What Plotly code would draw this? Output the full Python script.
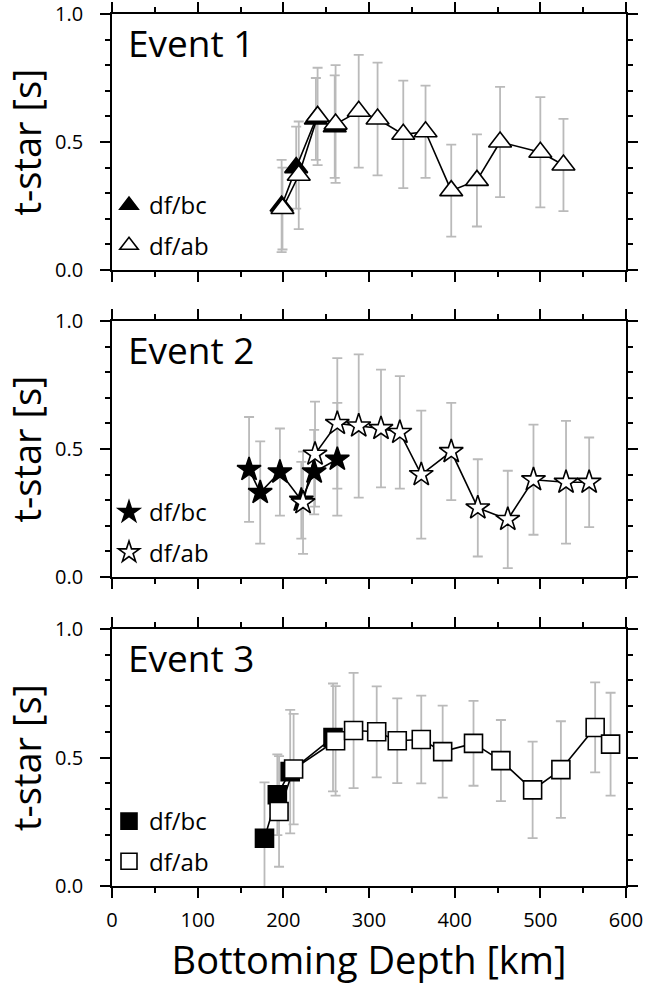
import plotly.graph_objects as go

# ---------------- data ----------------
ev1_ab_x = [199, 218, 240, 261, 288, 310, 340, 366, 396, 426, 453, 500, 527]
ev1_ab_y = [0.24, 0.37, 0.60, 0.57, 0.62, 0.59, 0.53, 0.54, 0.31, 0.35, 0.50, 0.46, 0.41]
ev1_ab_e = [0.16, 0.21, 0.19, 0.23, 0.22, 0.22, 0.21, 0.18, 0.18, 0.18, 0.215, 0.215, 0.18]
ev1_bc_x = [198, 215, 238, 260]
ev1_bc_y = [0.25, 0.40, 0.59, 0.56]
ev1_bc_e = [0.18, 0.16, 0.16, 0.20]

ev2_ab_x = [223, 237, 263, 288, 314, 336, 361, 396, 427, 462, 492, 530, 557]
ev2_ab_y = [0.29, 0.48, 0.60, 0.59, 0.58, 0.565, 0.40, 0.49, 0.27, 0.225, 0.38, 0.37, 0.37]
ev2_ab_e = [0.20, 0.205, 0.255, 0.28, 0.23, 0.22, 0.25, 0.19, 0.19, 0.19, 0.215, 0.24, 0.175]
ev2_bc_x = [160, 173, 196, 221, 236, 263]
ev2_bc_y = [0.42, 0.33, 0.41, 0.30, 0.41, 0.46]
ev2_bc_e = [0.205, 0.20, 0.17, 0.15, 0.165, 0.22]

ev3_ab_x = [195, 212, 261, 282, 309, 333, 361, 386, 422, 454, 491, 524, 564, 582]
ev3_ab_y = [0.29, 0.455, 0.565, 0.605, 0.60, 0.565, 0.57, 0.523, 0.555, 0.488, 0.374, 0.453, 0.617, 0.552]
ev3_ab_e = [0.215, 0.215, 0.213, 0.224, 0.177, 0.165, 0.171, 0.179, 0.165, 0.158, 0.188, 0.188, 0.175, 0.20]
ev3_bc_x = [178, 193, 208, 258]
ev3_bc_y = [0.186, 0.355, 0.445, 0.578]
ev3_bc_e = [0.217, 0.157, 0.24, 0.21]

event_labels = ["Event 1", "Event 2", "Event 3"]
series_names = ["df/bc", "df/ab"]
x_ticks = [0, 100, 200, 300, 400, 500, 600]
y_ticks = [0.0, 0.5, 1.0]

# ---------------- layout geometry ----------------
W, H = 647, 985
X0, X1 = 112, 626
panels_px = [(14, 270), (321, 577), (629, 886)]  # top, bottom in px

FONT = "Open Sans"
ERR_COLOR = "#bababa"

events = [
    (ev1_bc_x, ev1_bc_y, ev1_bc_e, ev1_ab_x, ev1_ab_y, ev1_ab_e, "triangle-up", 20),
    (ev2_bc_x, ev2_bc_y, ev2_bc_e, ev2_ab_x, ev2_ab_y, ev2_ab_e, "star", 18),
    (ev3_bc_x, ev3_bc_y, ev3_bc_e, ev3_ab_x, ev3_ab_y, ev3_ab_e, "square", 18),
]

fig = go.Figure()

for i, (bx, by, be, ax_, ay, ae, sym, msize) in enumerate(events):
    sfx = "" if i == 0 else str(i + 1)
    xa, ya = "x" + sfx, "y" + sfx
    lg = "legend" + sfx
    # error bars (drawn first, beneath everything)
    for xs, ys, es in ((bx, by, be), (ax_, ay, ae)):
        fig.add_trace(go.Scatter(
            x=xs, y=ys, mode="markers", xaxis=xa, yaxis=ya,
            marker=dict(size=2, opacity=0),
            error_y=dict(type="data", array=es, visible=True,
                         color=ERR_COLOR, thickness=1.8, width=5),
            showlegend=False, hoverinfo="skip"))
    # df/bc: black line + filled markers
    fig.add_trace(go.Scatter(x=bx, y=by, mode="lines", xaxis=xa, yaxis=ya,
                             line=dict(color="black", width=1.6),
                             showlegend=False, hoverinfo="skip"))
    fig.add_trace(go.Scatter(x=bx, y=by, mode="markers", xaxis=xa, yaxis=ya,
                             name=series_names[0], legend=lg, legendgroup="bc",
                             marker=dict(symbol=sym, size=msize, color="black",
                                         line=dict(color="black", width=1.6))))
    # df/ab: black line + open markers
    fig.add_trace(go.Scatter(x=ax_, y=ay, mode="lines", xaxis=xa, yaxis=ya,
                             line=dict(color="black", width=1.6),
                             showlegend=False, hoverinfo="skip"))
    fig.add_trace(go.Scatter(x=ax_, y=ay, mode="markers", xaxis=xa, yaxis=ya,
                             name=series_names[1], legend=lg, legendgroup="ab",
                             marker=dict(symbol=sym, size=msize, color="white",
                                         line=dict(color="black", width=1.6))))

def pfx(px):
    return px / W

def pfy(py):
    return 1 - py / H

layout = dict(
    width=W, height=H,
    margin=dict(l=0, r=0, t=0, b=0),
    paper_bgcolor="white", plot_bgcolor="white",
    font=dict(family=FONT, color="black"),
    annotations=[],
)

axis_common = dict(
    showline=True, linecolor="black", linewidth=1.6, mirror="ticks",
    ticks="outside", ticklen=10, tickwidth=1.5, tickcolor="black",
    showgrid=False, zeroline=False, automargin=False,
    ticklabeloverflow="allow",
    tickfont=dict(family=FONT, size=20, color="black"),
)

for i, (top, bot) in enumerate(panels_px):
    sfx = "" if i == 0 else str(i + 1)
    xa = dict(axis_common)
    xa.update(domain=[pfx(X0), pfx(X1)], range=[0, 600],
              tickmode="array", tickvals=x_ticks, ticktext=[str(v) for v in x_ticks],
              minor=dict(dtick=50, tick0=0, ticklen=5, tickwidth=1.5,
                         tickcolor="black", ticks="outside", showgrid=False),
              anchor="y" + sfx, showticklabels=(i == 2), ticklabelstandoff=5)
    if i == 2:
        xa["title"] = dict(text="Bottoming Depth [km]", standoff=10,
                           font=dict(family=FONT, size=38, color="black"))
    ya = dict(axis_common)
    ya.update(domain=[pfy(bot), pfy(top)], range=[0, 1],
              tickmode="array", tickvals=y_ticks, ticktext=["%.1f" % v for v in y_ticks],
              minor=dict(dtick=0.1, tick0=0, ticklen=5, tickwidth=1.5,
                         tickcolor="black", ticks="outside", showgrid=False),
              anchor="x" + sfx, ticklabelstandoff=13,
              title=dict(text="t-star [s]", standoff=10,
                         font=dict(family=FONT, size=38, color="black")))
    layout["xaxis" + sfx] = xa
    layout["yaxis" + sfx] = ya

    layout["annotations"].append(dict(
        text=event_labels[i], xref="paper", yref="paper",
        x=pfx(126), y=pfy(top + 1), xanchor="left", yanchor="top",
        showarrow=False, font=dict(family=FONT, size=37, color="black")))

    layout["legend" + sfx] = dict(
        x=pfx(109), y=pfy(bot - 2), xanchor="left", yanchor="bottom",
        bgcolor="rgba(0,0,0,0)", borderwidth=0, itemwidth=30,
        tracegroupgap=6, traceorder="grouped",
        font=dict(family=FONT, size=24, color="black"))

fig.update_layout(**layout)
fig.write_html("out.html")
